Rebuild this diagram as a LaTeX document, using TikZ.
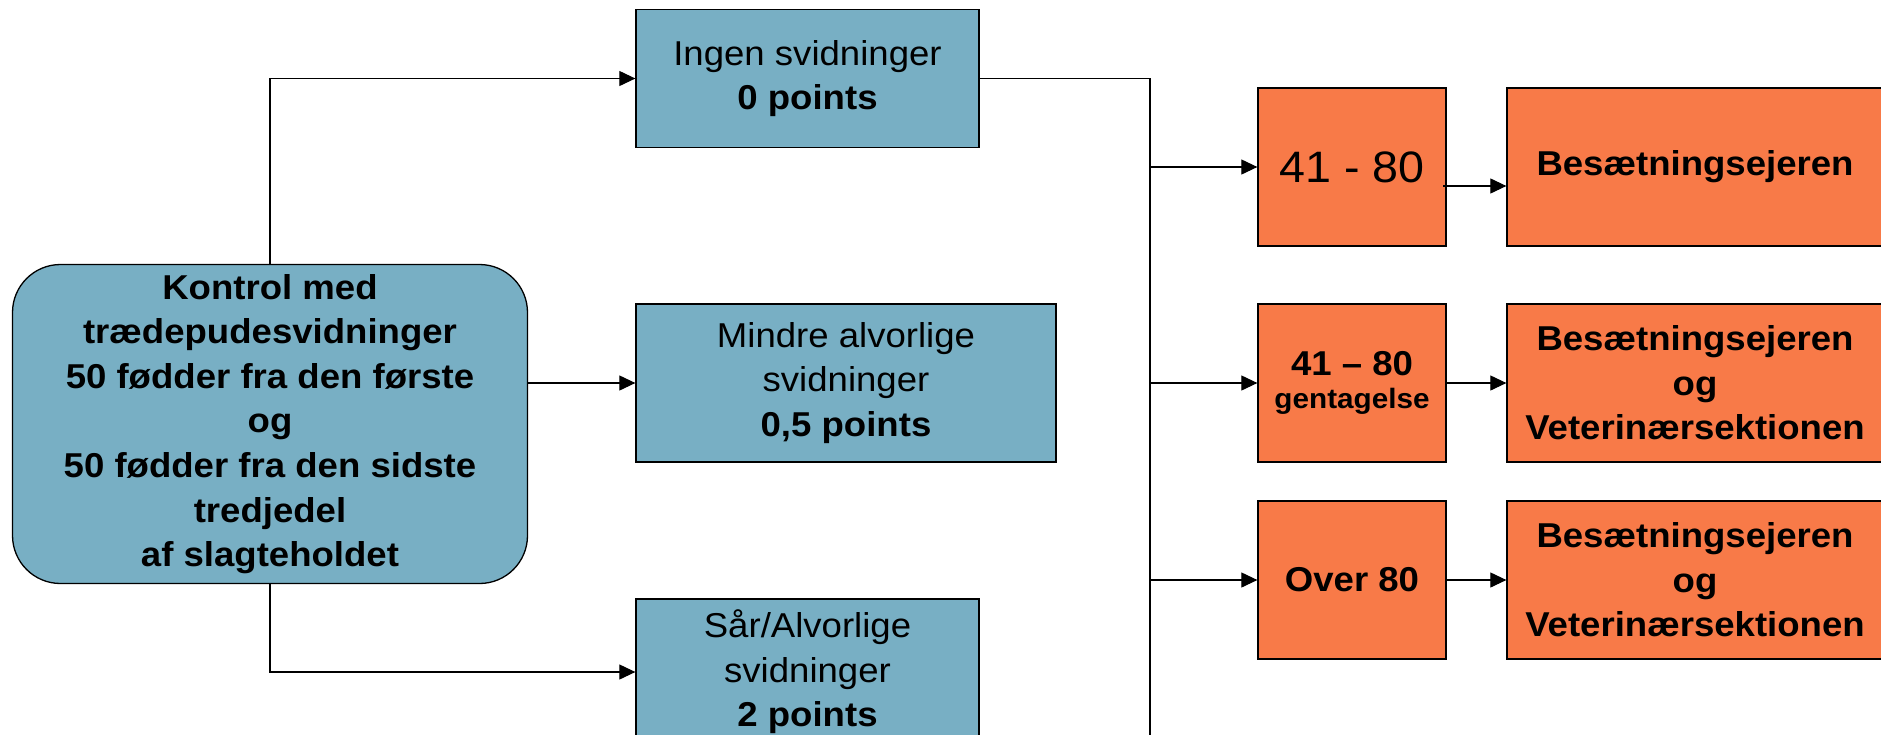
\documentclass[tikz,border=0pt]{standalone}
\usepackage{fontspec}
\setmainfont{Liberation Sans}[FakeStretch=1.06]
\usetikzlibrary{arrows.meta}
\definecolor{boxblue}{HTML}{78AFC4}
\definecolor{boxorange}{HTML}{F87A48}
\tikzset{
  bluebox/.style={draw=black, line width=1.3pt, fill=boxblue, align=center, inner sep=0pt,
    font=\fontsize{34.5}{44.6}\selectfont},
  orangebox/.style={draw=black, line width=1.3pt, fill=boxorange, align=center, inner sep=0pt,
    font=\fontsize{34.5}{44.6}\selectfont\bfseries},
  conn/.style={draw=black, line width=1.1pt},
  arr/.style={conn, -{Triangle[length=16pt,width=15pt]}},
}
\begin{document}
\begin{tikzpicture}[x=1pt,y=-1pt]
\useasboundingbox (0,0) rectangle (1881,734);
\clip (0,0) rectangle (1881,734);
\fill[white] (0,0) rectangle (1881,734);

% left column
\node[bluebox, font=\fontsize{34.5}{44.6}\selectfont\bfseries, rounded corners=48pt, minimum width=515pt, minimum height=319pt]
  (main) at (270,424) {Kontrol med\\trædepudesvidninger\\50 fødder fra den første\\og\\50 fødder fra den sidste\\tredjedel\\af slagteholdet};

% middle column
\node[bluebox, minimum width=343pt, minimum height=138pt] (ingen) at (807.5,78.5)
  {\rule{0pt}{3pt}Ingen svidninger\\\textbf{0 points}};
\node[bluebox, minimum width=420pt, minimum height=158pt] (mindre) at (846,383)
  {Mindre alvorlige\\svidninger\\\textbf{0,5 points}};
\node[bluebox, minimum width=343pt, minimum height=146pt] (sar) at (807.5,672)
  {Sår/Alvorlige\\svidninger\\\textbf{2 points}};

% right columns
\node[orangebox, minimum width=188pt, minimum height=158pt] (o1) at (1352,167)
  {\mdseries\fontsize{44}{52}\selectfont 41 - 80};
\node[orangebox, minimum width=188pt, minimum height=158pt] (o2) at (1352,383)
  {41 – 80\\[-12pt]{\fontsize{28}{34}\selectfont gentagelse}};
\node[orangebox, minimum width=188pt, minimum height=158pt] (o3) at (1352,580)
  {Over 80};

\node[orangebox, minimum width=376pt, minimum height=158pt] (r1) at (1695,167)
  {Besætningsejeren};
\node[orangebox, minimum width=376pt, minimum height=158pt] (r2) at (1695,383)
  {Besætningsejeren\\og\\Veterinærsektionen};
\node[orangebox, minimum width=376pt, minimum height=158pt] (r3) at (1695,580)
  {Besætningsejeren\\og\\Veterinærsektionen};

% bus line
\coordinate (busTop) at (1150,78.5);
\coordinate (busBot) at (1150,740);
\coordinate (o1out) at (1443,186);

% connectors from main
\draw[arr] (main.north) |- (ingen.west);
\draw[arr] (main.east |- mindre.west) -- (mindre.west);
\draw[arr] (main.south) |- (sar.west);

% bus
\draw[conn] (ingen.east) -- (busTop) -- (busBot);
\draw[arr] (busTop |- o1.west) -- (o1.west);
\draw[arr] (busTop |- o2.west) -- (o2.west);
\draw[arr] (busTop |- o3.west) -- (o3.west);

% orange to orange
\draw[arr] (o1out) -- (r1.west |- o1out);
\draw[arr] (o2.east) -- (r2.west);
\draw[arr] (o3.east) -- (r3.west);
\end{tikzpicture}
\end{document}
